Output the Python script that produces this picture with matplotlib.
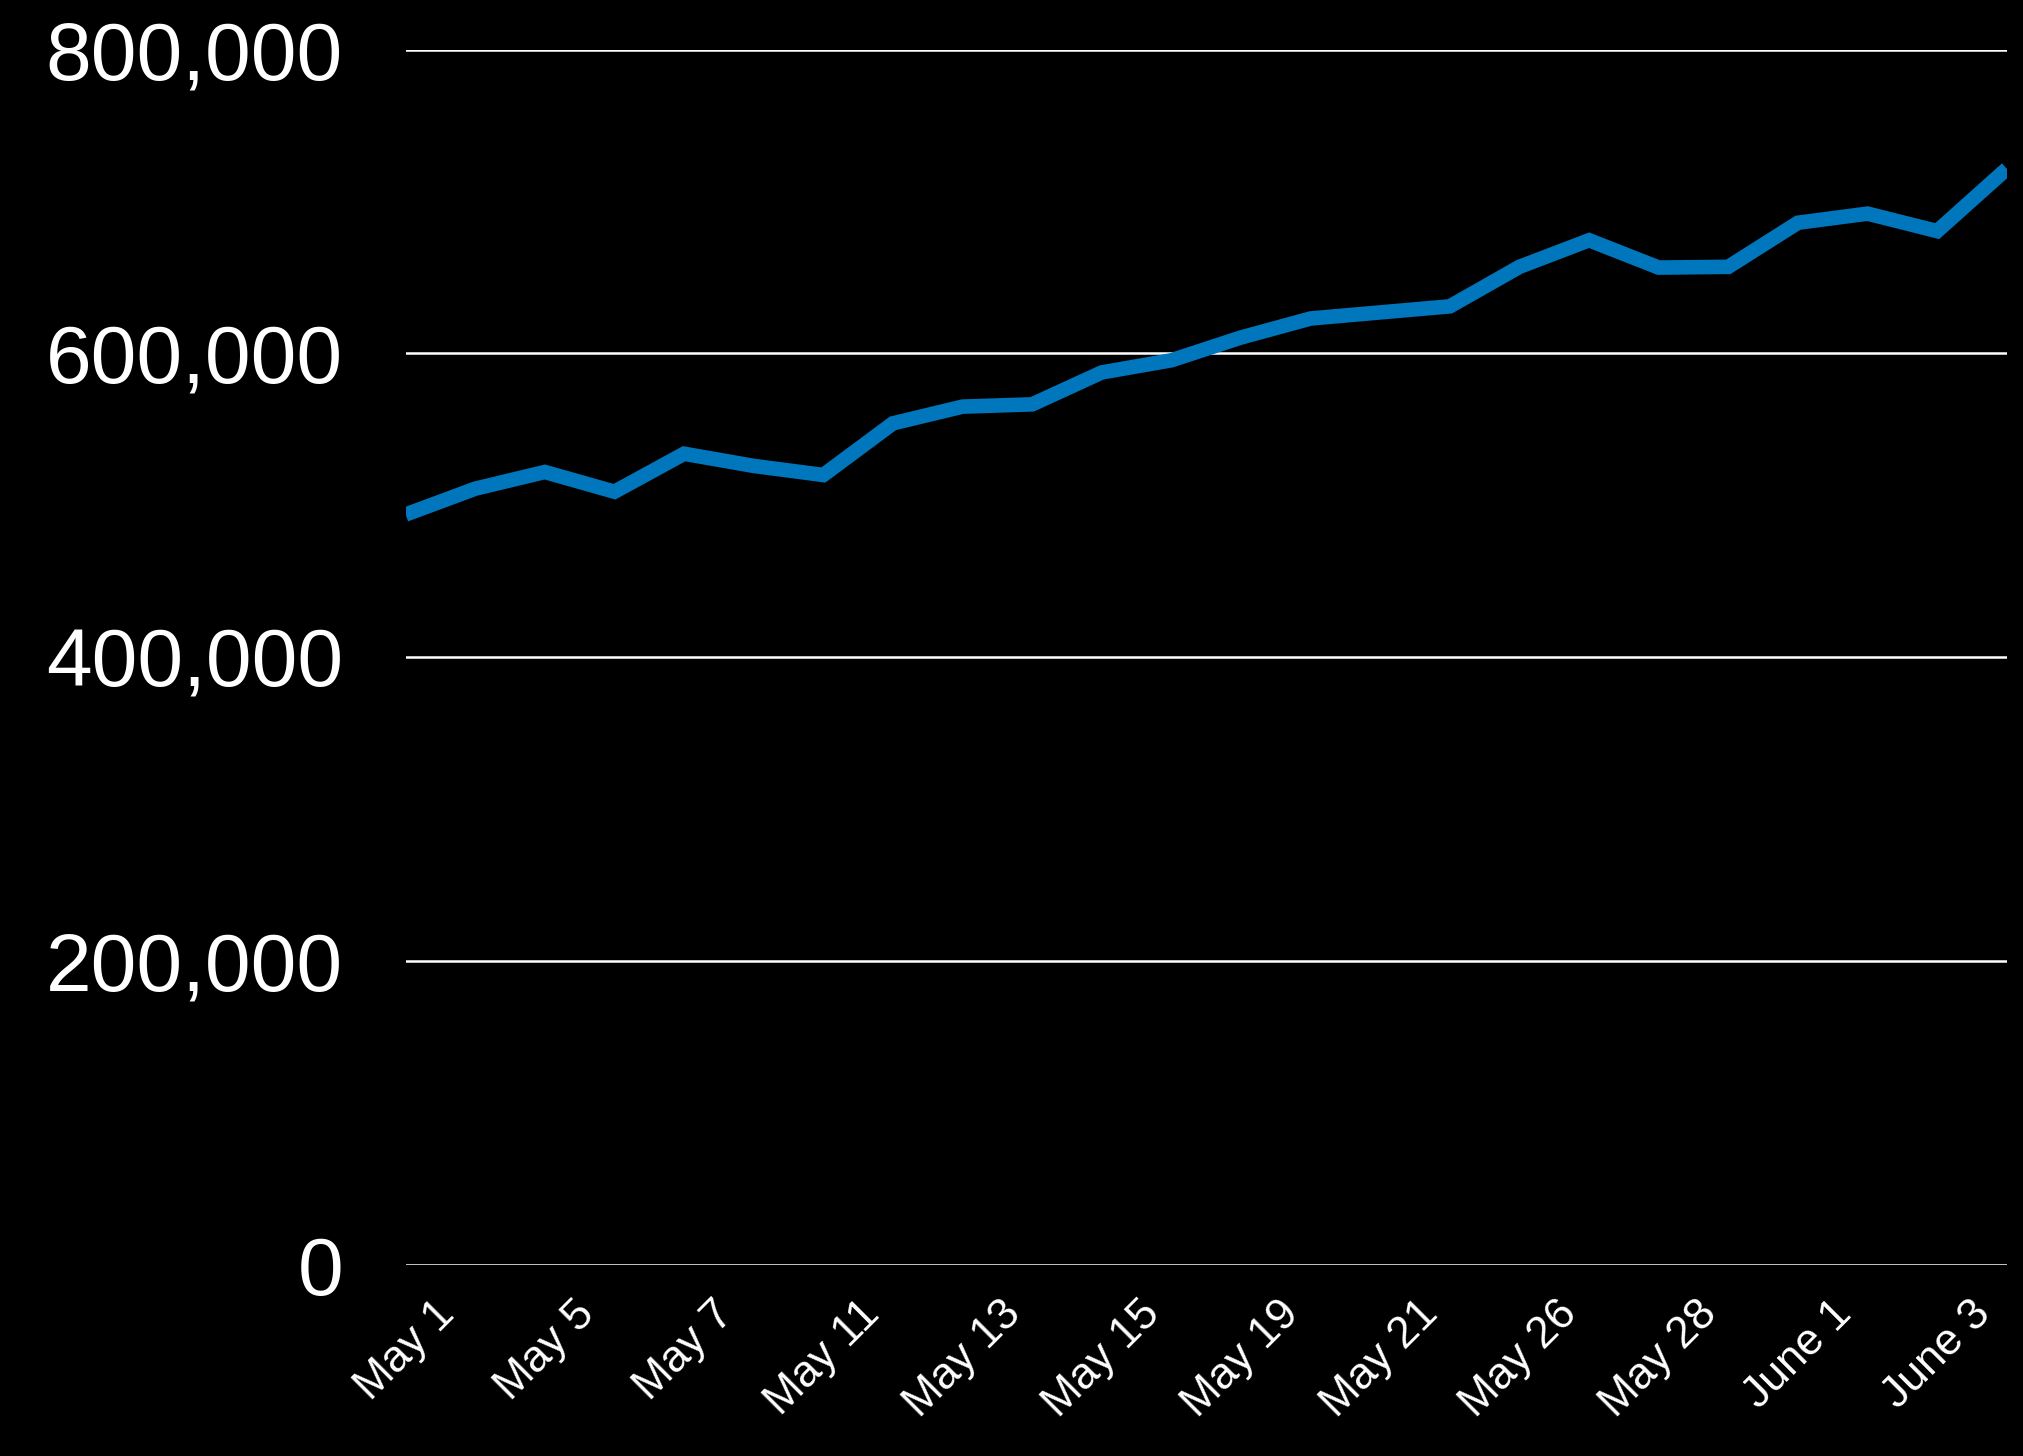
import numpy as np
import matplotlib
matplotlib.use("Agg")
import matplotlib.pyplot as plt
from matplotlib.ticker import FuncFormatter

# daily totals, one value per reporting day
values = [494000, 511000, 522000, 509000, 534000, 526000, 520000, 554000,
          565000, 566500, 587500, 595500, 610500, 623000, 627000, 631000,
          657000, 674500, 656500, 657000, 686000, 692000, 680500, 721500]
# labels shown on every other reporting day
date_labels = ["May 1", "May 5", "May 7", "May 11", "May 13", "May 15",
               "May 19", "May 21", "May 26", "May 28", "June 1", "June 3"]
y_ticks = [0, 200000, 400000, 600000, 800000]

plt.rcParams["font.family"] = ["Liberation Sans", "DejaVu Sans"]

fig = plt.figure(figsize=(20.23, 14.56), dpi=100, facecolor="black")
ax = fig.add_axes([0.2005, 0.131, 0.7915, 0.835], facecolor="black")

x = np.arange(len(values))
ax.plot(x, values, color="#0076BD", lw=10.5, solid_joinstyle="miter",
        solid_capstyle="butt", zorder=3)

ax.set_xlim(0, len(values) - 1)
ax.set_ylim(0, 800000)
ax.set_yticks(y_ticks)
ax.yaxis.set_major_formatter(FuncFormatter(lambda v, p: f"{int(v):,}"))
ax.grid(axis="y", color="white", lw=1.8)
ax.set_axisbelow(True)

ax.set_xticks(x[::2])
ax.set_xticklabels(date_labels, rotation=45, ha="center", fontsize=32)

ax.tick_params(axis="y", length=0, pad=45, labelsize=59, colors="white")
ax.tick_params(axis="x", length=0, pad=20, colors="white")
for s in ax.spines.values():
    s.set_visible(False)

fig.savefig("out.png", dpi=100, facecolor="black")
